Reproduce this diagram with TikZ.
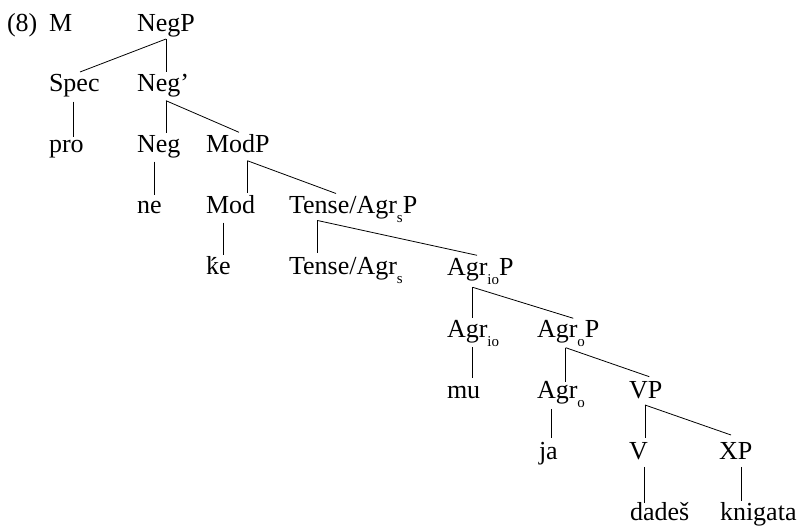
\documentclass[tikz,border=0pt]{standalone}
\usepackage{fontspec}
\setmainfont{Liberation Serif}
\newcommand\subx[1]{\raisebox{-8.5pt}{\fontsize{15}{15}\selectfont #1}}
\newcommand\kacute{k\llap{\raisebox{-0.5pt}{´}\kern1pt}}
\newcommand\br[6]{\draw[branch] ([shift={(#2,#3)}]#1.base west) -- ([shift={(#5,#6)}]#4.base west);}
\begin{document}
\begin{tikzpicture}[x=1pt,y=-1pt,
  lbl/.style={anchor=base west,inner sep=0pt,outer sep=0pt,font=\fontsize{26}{30}\selectfont},
  branch/.style={line width=0.8pt,black}]
\useasboundingbox (0,0) rectangle (801,526);
% rows
\node[lbl] (num) at (7,31.5) {(8)};
\node[lbl] (m) at (49,31.5) {M};
\node[lbl] (negp) at (137,31.5) {NegP};
\node[lbl] (spec) at (49,92) {Spec};
\node[lbl] (negbar) at (137,92) {Neg’};
\node[lbl] (pro) at (49,153) {pro};
\node[lbl] (neg) at (137,153) {Neg};
\node[lbl] (modp) at (206,153) {ModP};
\node[lbl] (ne) at (137,214) {ne};
\node[lbl] (mod) at (206,214) {Mod};
\node[lbl] (tap) at (289,214) {Tense/Agr\subx{s}P};
\node[lbl] (ke) at (206,275) {\kacute e};
\node[lbl] (ta) at (289,275) {Tense/Agr\subx{s}};
\node[lbl] (agriop) at (447,276) {Agr\subx{io}P};
\node[lbl] (agrio) at (447,338) {Agr\subx{io}};
\node[lbl] (agrop) at (537,338) {Agr\subx{o}P};
\node[lbl] (mu) at (447,399) {mu};
\node[lbl] (agro) at (537,399) {Agr\subx{o}};
\node[lbl] (vp) at (629,399) {VP};
\node[lbl] (ja) at (539,460) {ja};
\node[lbl] (v) at (629,460) {V};
\node[lbl] (xp) at (719,460) {XP};
\node[lbl] (dades) at (630,521) {dadeš};
\node[lbl] (knigata) at (720,521) {knigata};
% branches
\br{negp}{29}{7.5}{spec}{31}{-20}
\br{negp}{29}{7.5}{negbar}{29}{-20}
\br{spec}{24}{9.7}{pro}{24}{-16.3}
\br{negbar}{29}{8.7}{neg}{29}{-20.3}
\br{negbar}{29}{8.7}{modp}{33}{-20.7}
\br{neg}{17}{8.7}{ne}{17}{-19}
\br{modp}{41.3}{7.7}{mod}{41.3}{-20.7}
\br{modp}{41.3}{7.7}{tap}{47}{-20.5}
\br{mod}{17.3}{8.7}{ke}{17.3}{-20}
\br{tap}{28.5}{6.5}{ta}{28.5}{-21.7}
\br{tap}{28.5}{6.5}{agriop}{30}{-20.7}
\br{agriop}{25.7}{11.3}{agrio}{25.7}{-20}
\br{agriop}{25.7}{11.3}{agrop}{36.3}{-19.7}
\br{agrio}{25.7}{9}{mu}{25.7}{-21}
\br{agrop}{28.7}{9.7}{agro}{28.7}{-17.3}
\br{agrop}{28.7}{9.7}{vp}{20.3}{-22.3}
\br{agro}{14.7}{10}{ja}{12.7}{-22}
\br{vp}{16}{6}{v}{16}{-21.7}
\br{vp}{16}{6}{xp}{12}{-25}
\br{v}{15}{7}{dades}{14}{-18}
\br{xp}{22.7}{7}{knigata}{21.7}{-20}
\end{tikzpicture}
\end{document}
